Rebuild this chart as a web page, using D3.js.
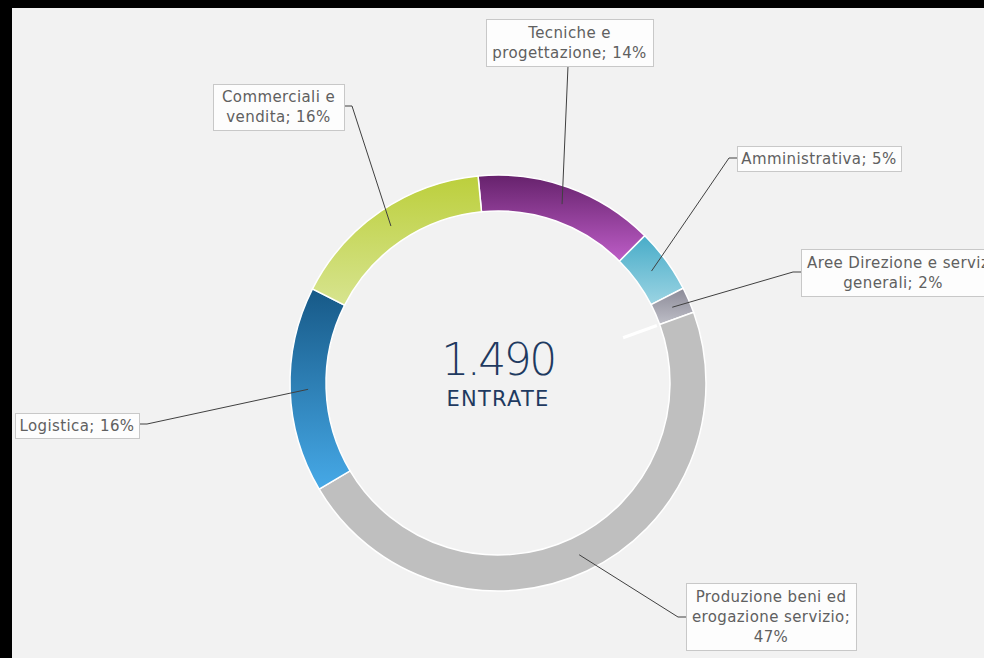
<!DOCTYPE html>
<html>
<head>
<meta charset="utf-8">
<script src="https://cdn.jsdelivr.net/npm/d3@7"></script>
<style>
  html, body { margin: 0; padding: 0; background: #000; }
  svg { display: block; }
  .lbl text { font-family: "DejaVu Sans", sans-serif; font-size: 15px; letter-spacing: 0.4px; fill: #606060; }
</style>
</head>
<body>
<svg id="chart" width="984" height="658"></svg>
<script>
// data
const categories = ["Tecniche e progettazione", "Amministrativa", "Aree Direzione e servizi generali",
  "Produzione beni ed erogazione servizio", "Logistica", "Commerciali e vendita"];
const shares = [14, 5, 2, 47, 16, 16];
const labelLines = [
  ["Tecniche e", "progettazione; 14%"],
  ["Amministrativa; 5%"],
  ["Aree Direzione e servizi", "generali; 2%"],
  ["Produzione beni ed", "erogazione servizio;", "47%"],
  ["Logistica; 16%"],
  ["Commerciali e", "vendita; 16%"]
];
const totalLabel = "1.490";
const totalCaption = "ENTRATE";

// colours (top -> bottom of each slice)
const gradients = [
  ["#66226c", "#bd5dc7"],
  ["#48acc8", "#9bd4e3"],
  ["#8b8a97", "#bebec7"],
  ["#bfbfbf", "#bfbfbf"],
  ["#175987", "#46a9e7"],
  ["#bccf3c", "#d7e48f"]
];

// label box layout
const boxes = [
  { x: 486, y: 19, w: 167, h: 47, side: "bottom", ax: 568 },
  { x: 737, y: 146, w: 164, h: 25, side: "left", ay: 158 },
  { x: 801, y: 249, w: 190, h: 47, side: "left", ay: 272 },
  { x: 686, y: 583, w: 170, h: 67, side: "left", ay: 617 },
  { x: 15, y: 413, w: 124, h: 25, side: "right", ay: 424 },
  { x: 213, y: 84, w: 131, h: 46, side: "right", ay: 106 }
];

const svg = d3.select("#chart");
const cx = 498, cy = 383, rOuter = 208, rInner = 172;

// background panel (black strips top/left come from body)
svg.append("rect").attr("x", 12).attr("y", 8).attr("width", 972).attr("height", 650).attr("fill", "#f2f2f2");

const defs = svg.append("defs");
gradients.forEach((g, i) => {
  const lg = defs.append("linearGradient").attr("id", "grad" + i)
    .attr("x1", 0).attr("y1", 0).attr("x2", 0).attr("y2", 1);
  lg.append("stop").attr("offset", "0%").attr("stop-color", g[0]);
  lg.append("stop").attr("offset", "100%").attr("stop-color", g[1]);
});

const startDeg = -5.5;
const pie = d3.pie().sort(null)
  .startAngle(startDeg * Math.PI / 180)
  .endAngle((startDeg + 360) * Math.PI / 180)
  .value(d => d);
const arcs = pie(shares);

const arc = d3.arc().innerRadius(rInner).outerRadius(rOuter);
const g = svg.append("g").attr("transform", `translate(${cx},${cy})`);

g.selectAll("path.slice")
  .data(arcs)
  .enter().append("path")
  .attr("class", "slice")
  .attr("d", arc)
  .attr("fill", (d, i) => `url(#grad${i})`)
  .attr("stroke", "#ffffff")
  .attr("stroke-width", 1.5);

// stray white tick on the Aree / Produzione boundary
const a = arcs[2].endAngle;
g.append("line")
  .attr("x1", Math.sin(a) * 133).attr("y1", -Math.cos(a) * 133)
  .attr("x2", Math.sin(a) * 169).attr("y2", -Math.cos(a) * 169)
  .attr("stroke", "#ffffff").attr("stroke-width", 3);

// centre text
g.append("text").attr("x", 0).attr("y", -8).attr("text-anchor", "middle")
  .attr("font-family", "DejaVu Sans, sans-serif").attr("font-size", 44)
  .attr("letter-spacing", -2.5)
  .attr("fill", "#1f3a60").attr("font-weight", 200).text(totalLabel);
g.append("text").attr("x", 0).attr("y", 23).attr("text-anchor", "middle")
  .attr("font-family", "DejaVu Sans, sans-serif").attr("font-size", 21)
  .attr("letter-spacing", 1.2)
  .attr("fill", "#1f3a60").text(totalCaption);

// leader lines
const midArc = d3.arc().innerRadius(190).outerRadius(190);
arcs.forEach((d, i) => {
  const b = boxes[i];
  const [px, py] = midArc.centroid(d);
  const tx = px + cx, ty = py + cy;
  let pts;
  if (b.side === "bottom") {
    pts = [[b.ax, b.y + b.h], [tx, ty]];
  } else if (b.side === "left") {
    pts = [[b.x, b.ay], [b.x - 8, b.ay], [tx, ty]];
  } else {
    pts = [[b.x + b.w, b.ay], [b.x + b.w + 8, b.ay], [tx, ty]];
  }
  svg.append("path")
    .attr("d", d3.line()(pts))
    .attr("fill", "none").attr("stroke", "#404040").attr("stroke-width", 1);
});

// label boxes
const lbl = svg.selectAll("g.lbl")
  .data(boxes)
  .enter().append("g").attr("class", "lbl");
lbl.append("rect")
  .attr("x", d => d.x + 0.5).attr("y", d => d.y + 0.5)
  .attr("width", d => d.w).attr("height", d => d.h)
  .attr("fill", "#fdfdfd").attr("stroke", "#c8c8c8").attr("stroke-width", 1);
lbl.each(function(d, i) {
  const lines = labelLines[i];
  const n = lines.length;
  const mid = d.x + d.w / 2;
  const top = d.y + d.h / 2 - (n - 1) * 10;
  d3.select(this).selectAll("text")
    .data(lines).enter().append("text")
    .attr("x", (t, k) => (i === 2 ? (k === 0 ? 807 : 893) : mid))
    .attr("y", (t, k) => top + k * 20 + 5)
    .attr("text-anchor", (t, k) => (i === 2 && k === 0 ? "start" : "middle"))
    .text(t => t);
});
</script>
</body>
</html>
